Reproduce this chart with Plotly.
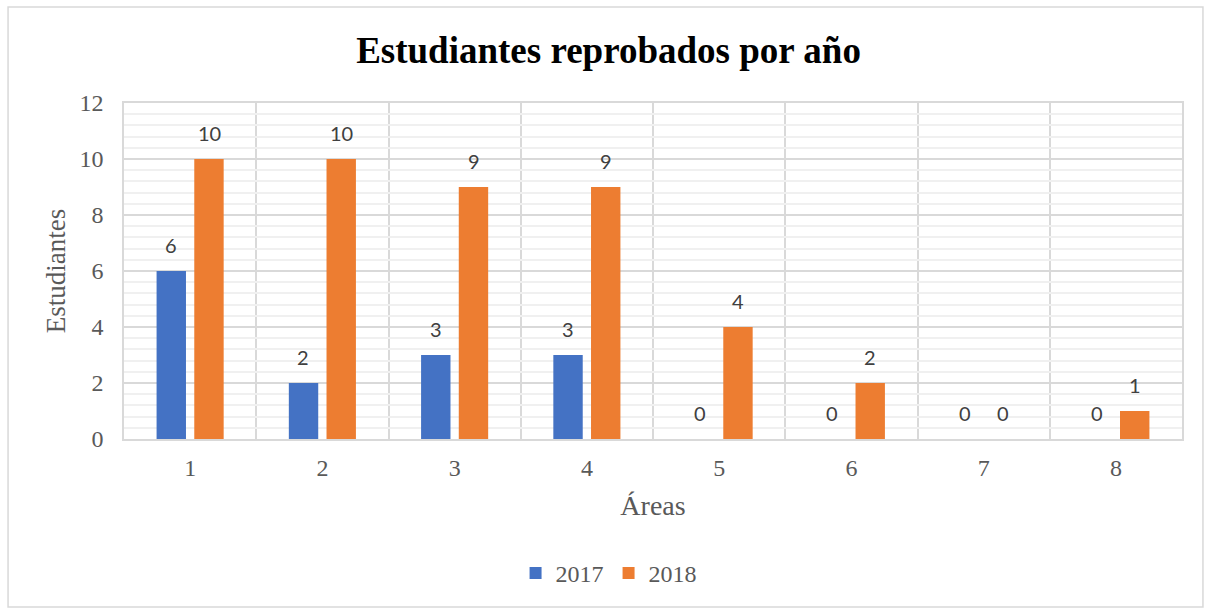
import plotly.graph_objects as go

# Data
areas = [1, 2, 3, 4, 5, 6, 7, 8]
y2017 = [6, 2, 3, 3, 0, 0, 0, 0]
y2018 = [10, 10, 9, 9, 4, 2, 0, 1]

blue = "#4472C4"
orange = "#ED7D31"
serif = "Liberation Serif, Times New Roman, serif"
label_font = dict(family="Lato, Calibri, sans-serif", size=20, color="#404040")

fig = go.Figure()
fig.add_trace(go.Bar(x=areas, y=y2017, name="2017", marker_color=blue, marker_line_width=0))
fig.add_trace(go.Bar(x=areas, y=y2018, name="2018", marker_color=orange, marker_line_width=0))

# data labels, Excel style (a bit above the bar top)
for i, a in enumerate(areas):
    fig.add_annotation(x=a, y=y2017[i], text=str(y2017[i]), showarrow=False,
                       xshift=-19, yshift=26, font=label_font)
    fig.add_annotation(x=a, y=y2018[i], text=str(y2018[i]), showarrow=False,
                       xshift=19, yshift=26, font=label_font)

fig.update_layout(
    width=1205, height=608,
    plot_bgcolor="white", paper_bgcolor="white",
    margin=dict(l=124, r=23, t=103, b=169),
    barmode="group", bargap=0.43, bargroupgap=0.22,
    title=dict(text="<b>Estudiantes reprobados por año</b>", x=0.505, xanchor="center",
               y=0.918, yanchor="middle",
               font=dict(family=serif, size=37, color="black")),
    legend=dict(orientation="h", x=0.458, xanchor="center",
                y=-0.4, yanchor="middle",
                font=dict(family=serif, size=24, color="#595959"),
                itemwidth=30, traceorder="normal"),
    showlegend=True,
)

fig.update_xaxes(
    range=[0.5, 8.5], tickvals=areas, ticktext=[str(a) for a in areas],
    showgrid=False, zeroline=False,
    showline=True, linecolor="#d9d9d9", linewidth=1.5, mirror=True,
    minor=dict(tick0=0.5, dtick=1, showgrid=True, gridcolor="#d9d9d9", gridwidth=1.5),
    tickfont=dict(family=serif, size=24, color="#595959"), ticklen=0,
    ticklabelstandoff=6,
    title=dict(text="Áreas", font=dict(family=serif, size=28, color="#595959"), standoff=16),
)
fig.update_yaxes(
    range=[0, 12], dtick=2, showgrid=True, gridcolor="#d9d9d9", gridwidth=1.5,
    zeroline=False,
    showline=True, linecolor="#d9d9d9", linewidth=1.5, mirror=True,
    minor=dict(dtick=0.4, showgrid=True, gridcolor="#f0f0f0", gridwidth=1.5),
    tickfont=dict(family=serif, size=24, color="#595959"), ticklen=0,
    ticklabelstandoff=14,
    title=dict(text="Estudiantes", font=dict(family=serif, size=27, color="#595959"), standoff=6),
)

# outer chart border
fig.add_shape(type="rect", xref="paper", yref="paper",
              x0=-0.1096, x1=1.0198, y0=-0.5, y1=1.2857,
              line=dict(color="#d9d9d9", width=1.5), layer="below")

fig.write_html("out.html", config={"displayModeBar": False},
               post_script="document.body.style.margin='0';")
